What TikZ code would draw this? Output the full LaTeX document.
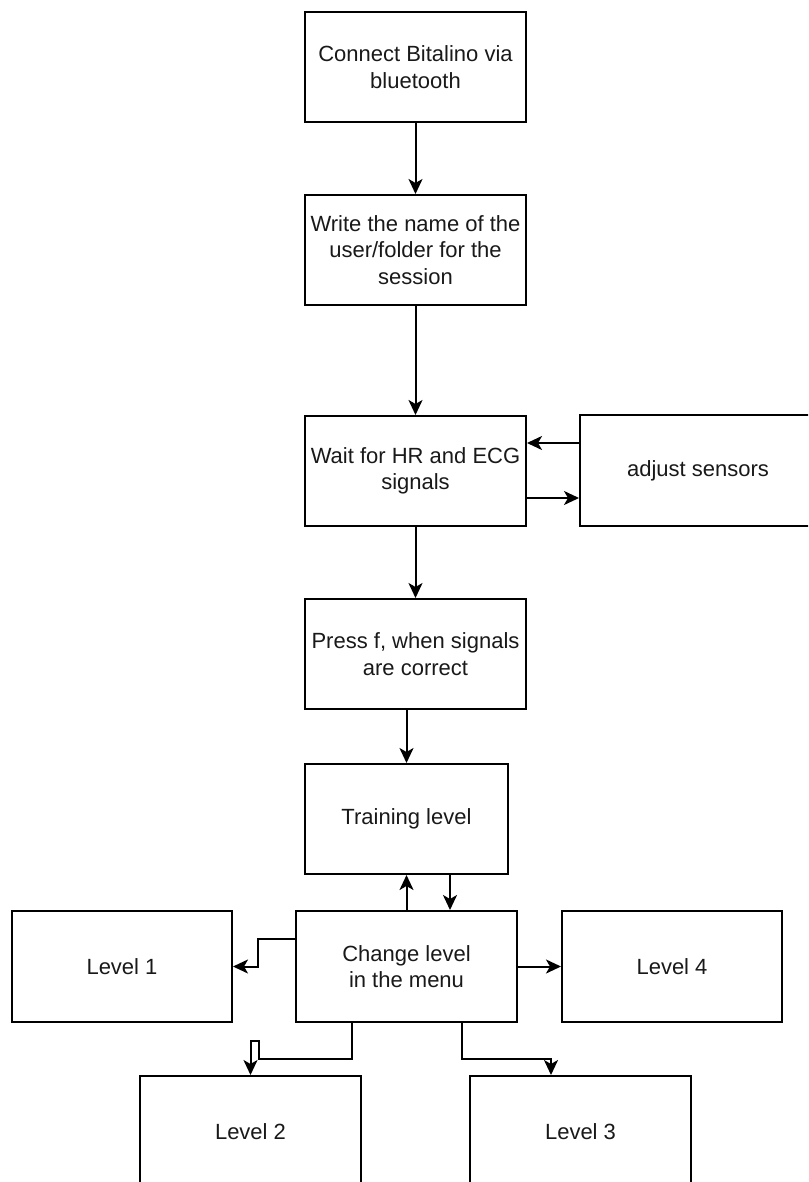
\documentclass[tikz,border=0pt]{standalone}
\usepackage{fontspec}
\setmainfont{Liberation Sans}
\usetikzlibrary{arrows.meta}
\begin{document}
\begin{tikzpicture}[x=1pt,y=-1pt,
  box/.style={draw=black,line width=2pt,rectangle,inner sep=0pt,align=center,
    font=\fontsize{22}{26.4}\selectfont,text=black!90},
  arr/.style={draw=black,line width=2pt,-{Stealth[length=15pt,width=14pt,inset=4pt]}}]
\useasboundingbox (0,0) rectangle (808,1182);
\clip (0,0) rectangle (808,1182);
\node[box,minimum width=221pt,minimum height=110pt] (b1) at (415.5,67) {Connect Bitalino via\\bluetooth};
\node[box,minimum width=221pt,minimum height=110pt] (b2) at (415.5,250) {Write the name of the\\user/folder for the\\session};
\node[box,minimum width=221pt,minimum height=110pt] (b3) at (415.5,471) {Wait for HR and ECG\\signals};
\node[box,minimum width=236pt,minimum height=111pt] (adj) at (698,470.5) {adjust sensors};
\node[box,minimum width=221pt,minimum height=110pt] (b4) at (415.5,654) {Press f, when signals\\are correct};
\node[box,minimum width=203pt,minimum height=110pt] (train) at (406.5,819) {Training level};
\node[box,minimum width=221pt,minimum height=111pt] (change) at (406.5,966.5) {Change level\\in the menu};
\node[box,minimum width=220pt,minimum height=111pt] (L1) at (122,966.5) {Level 1};
\node[box,minimum width=220pt,minimum height=111pt] (L4) at (672,966.5) {Level 4};
\node[box,minimum width=221pt,minimum height=112pt] (L2) at (250.5,1132) {Level 2};
\node[box,minimum width=221pt,minimum height=112pt] (L3) at (580.5,1132) {Level 3};

\draw[arr] (b1.south) -- (b2.north);
\draw[arr] (b2.south) -- (b3.north);
\draw[arr] ([yshift=27.5pt]adj.west) -- ([yshift=27.5pt]adj.west -| b3.east);
\draw[arr] ([yshift=-27pt]b3.east) -- ([yshift=-27pt]b3.east -| adj.west);
\draw[arr] (b3.south) -- (b4.north);
\draw[arr] ([xshift=-9pt]b4.south) -- (train.north);
\draw[arr] (change.north) -- (train.south);
\draw[arr] ([xshift=43.5pt]train.south) -- ([xshift=43.5pt]train.south |- change.north);
\draw[arr] ([yshift=27.5pt]change.west) -- ++(-37,0) |- (L1.east);
\draw[arr] (change.east) -- (L4.west);
\draw[arr] ([xshift=-54.5pt]change.south) -- ++(0,36) -- ++(-93,0) -- ++(0,-18) -| (L2.north);
\draw[arr] ([xshift=55.5pt]change.south) -- ++(0,36) -| ([xshift=-29.5pt]L3.north);
\end{tikzpicture}
\end{document}
